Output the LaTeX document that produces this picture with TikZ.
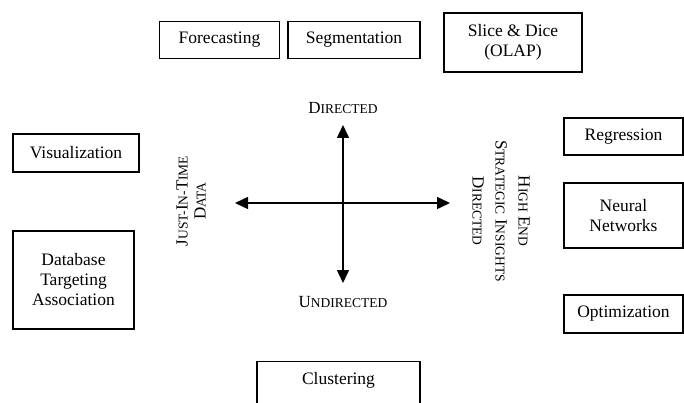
\documentclass[tikz,border=0pt]{standalone}
\usepackage{fontspec}
\setmainfont{Liberation Serif}
\usetikzlibrary{arrows.meta}

% faked small capitals: large initial, smaller upper-case rest
\newcommand{\capA}[1]{{\fontsize{17}{20}\selectfont #1}}
\newcommand{\capB}[1]{{\fontsize{13.5}{20}\selectfont #1}}

\tikzset{
  box/.style={draw, line width=1.4pt, align=center, inner sep=0pt,
              font=\fontsize{17.5}{20}\selectfont},
  axislabel/.style={align=center, inner sep=0pt, font=\fontsize{17}{20}\selectfont},
  axis/.style={line width=1.5pt, {Triangle[length=13pt,width=12pt]}-{Triangle[length=13pt,width=12pt]}}
}

\begin{document}
\begin{tikzpicture}[x=1pt,y=-1pt]
  \useasboundingbox (0,0) rectangle (684,403);
  \clip (0,0) rectangle (684,403);

  % top row
  \node[box, minimum width=120pt, minimum height=37pt] (fore) at (219.5,40) {Forecasting};
  \node[box, minimum width=132pt, minimum height=37pt] (segm) at (354,40) {Segmentation};
  \node[box, minimum width=138pt, minimum height=59pt] (olap) at (513,42.5) {Slice \& Dice\\(OLAP)};

  % left column
  \node[box, minimum width=126pt, minimum height=38pt] (visu) at (76,153) {Visualization};
  \node[box, minimum width=121pt, minimum height=98pt] (dbta) at (73.5,280) {Database\\Targeting\\Association};

  % right column
  \node[box, minimum width=119pt, minimum height=37pt] (regr) at (623.5,136.5) {Regression};
  \node[box, minimum width=119pt, minimum height=65pt] (neur) at (623.5,215.5) {Neural\\Networks};
  \node[box, minimum width=119pt, minimum height=38pt] (opti) at (623.5,314) {Optimization};

  % bottom box, running off the lower edge
  \node[box, anchor=north, minimum width=163pt, text height=23pt, text depth=40pt] (clus) at (338.5,361) {Clustering};

  % the two axes
  \coordinate (c) at (343,203);
  \coordinate (w) at (235,203);
  \coordinate (e) at (450,203);
  \coordinate (n) at (343,125);
  \coordinate (s) at (343,283);
  \draw[axis] (w) -- (e);
  \draw[axis] (s) -- (n);

  % axis labels
  \node[axislabel] (dir) at (343,108) {\capA{D}\capB{IRECTED}};
  \node[axislabel] (undir) at (343,302) {\capA{U}\capB{NDIRECTED}};
  \node[axislabel, rotate=90] (jit) at (191,201)
    {\capA{J}\capB{UST}\capB{-}\capA{I}\capB{N}\capB{-}\capA{T}\capB{IME}\\[-2pt]\capA{D}\capB{ATA}};
  \node[axislabel, rotate=-90] (high) at (501,211)
    {\capA{H}\capB{IGH} \capA{E}\capB{ND}\\[3pt]\capA{S}\capB{TRATEGIC} \capA{I}\capB{NSIGHTS}\\[3pt]\capA{D}\capB{IRECTED}};
\end{tikzpicture}
\end{document}
